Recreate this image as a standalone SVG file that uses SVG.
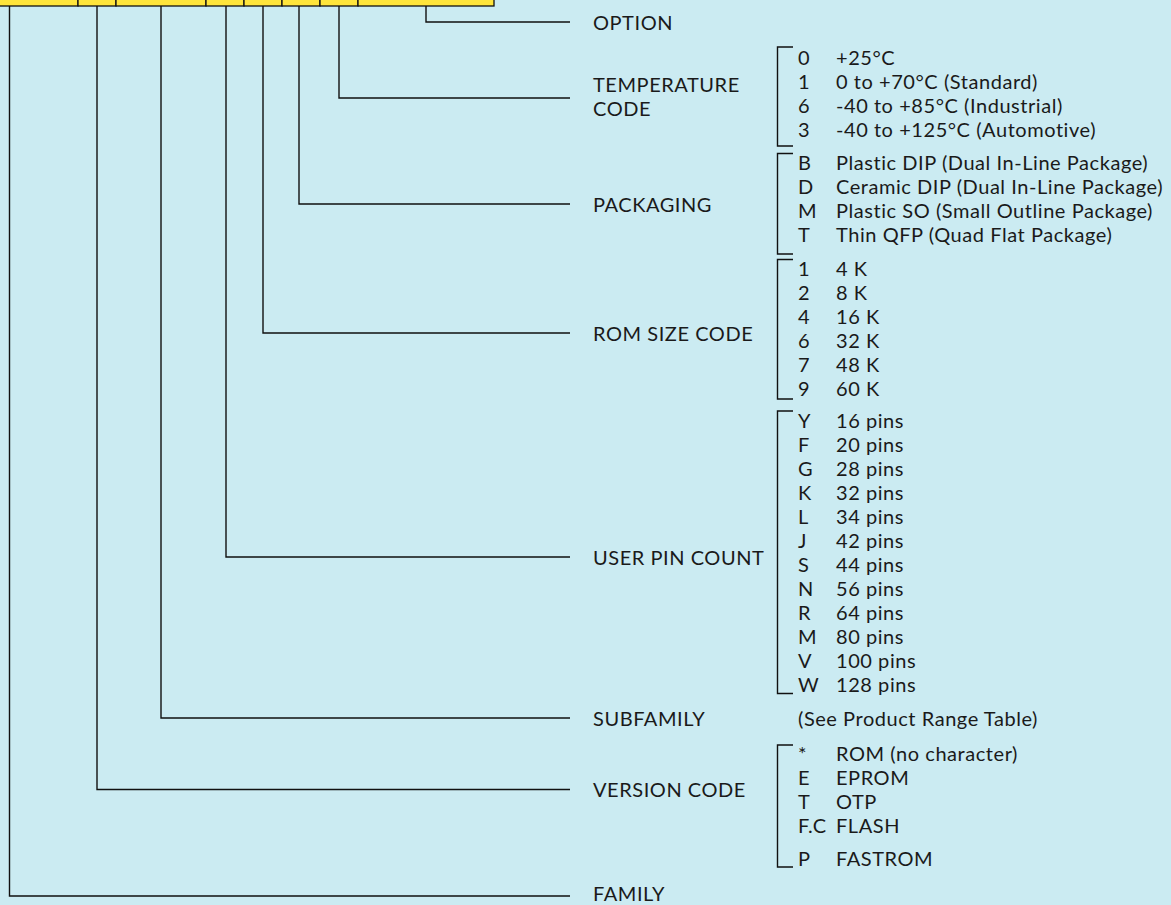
<svg xmlns="http://www.w3.org/2000/svg" width="1171" height="905" viewBox="0 0 1171 905">
<style>
text{font-family:Lato,"Noto Sans","Liberation Sans",sans-serif;font-size:20px;letter-spacing:0.55px;fill:#1a1a1a}
.box{fill:#FFE53B;stroke:#111;stroke-width:1.3}
.conn{fill:none;stroke:#111;stroke-width:1.4}
.br{fill:none;stroke:#111;stroke-width:1.4}
</style>
<rect x="0" y="0" width="1171" height="905" fill="#CBEBF2"/>
<g id="code-boxes">
<rect class="box" x="-5" y="-20" width="83" height="26"/>
<rect class="box" x="78" y="-20" width="38" height="26"/>
<rect class="box" x="116" y="-20" width="90" height="26"/>
<rect class="box" x="206" y="-20" width="38" height="26"/>
<rect class="box" x="244" y="-20" width="38" height="26"/>
<rect class="box" x="282" y="-20" width="38" height="26"/>
<rect class="box" x="320" y="-20" width="38" height="26"/>
<rect class="box" x="358" y="-20" width="136" height="26"/>
</g>
<g id="connectors">
<polyline class="conn" points="426,6 426,22 570,22"/>
<polyline class="conn" points="339,6 339,98 570,98"/>
<polyline class="conn" points="299,6 299,204 570,204"/>
<polyline class="conn" points="263,6 263,333 570,333"/>
<polyline class="conn" points="226,6 226,557 570,557"/>
<polyline class="conn" points="161,6 161,718 570,718"/>
<polyline class="conn" points="97,6 97,789.5 570,789.5"/>
<polyline class="conn" points="9.5,6 9.5,896 570,896"/>
</g>
<g id="option">
<text x="593" y="30">OPTION</text>
</g>
<g id="temperature">
<text x="593" y="92">TEMPERATURE</text>
<text x="593" y="116">CODE</text>
<polyline class="br" points="793,47 777.5,47 777.5,146 793,146"/>
<text x="798" y="65">0</text><text x="836" y="65">+25°C</text>
<text x="798" y="89">1</text><text x="836" y="89">0 to +70°C (Standard)</text>
<text x="798" y="113">6</text><text x="836" y="113">-40 to +85°C (Industrial)</text>
<text x="798" y="137">3</text><text x="836" y="137">-40 to +125°C (Automotive)</text>
</g>
<g id="packaging">
<text x="593" y="212">PACKAGING</text>
<polyline class="br" points="793,153.5 777.5,153.5 777.5,254 793,254"/>
<text x="798" y="170">B</text><text x="836" y="170">Plastic DIP (Dual In-Line Package)</text>
<text x="798" y="194">D</text><text x="836" y="194">Ceramic DIP (Dual In-Line Package)</text>
<text x="798" y="218">M</text><text x="836" y="218">Plastic SO (Small Outline Package)</text>
<text x="798" y="242">T</text><text x="836" y="242">Thin QFP (Quad Flat Package)</text>
</g>
<g id="rom-size">
<text x="593" y="341">ROM SIZE CODE</text>
<polyline class="br" points="793,259.5 777.5,259.5 777.5,399 793,399"/>
<text x="798" y="276">1</text><text x="836" y="276">4 K</text>
<text x="798" y="300">2</text><text x="836" y="300">8 K</text>
<text x="798" y="324">4</text><text x="836" y="324">16 K</text>
<text x="798" y="348">6</text><text x="836" y="348">32 K</text>
<text x="798" y="372">7</text><text x="836" y="372">48 K</text>
<text x="798" y="396">9</text><text x="836" y="396">60 K</text>
</g>
<g id="pin-count">
<text x="593" y="565">USER PIN COUNT</text>
<polyline class="br" points="793,411 777.5,411 777.5,693.5 793,693.5"/>
<text x="798" y="428">Y</text><text x="836" y="428">16 pins</text>
<text x="798" y="452">F</text><text x="836" y="452">20 pins</text>
<text x="798" y="476">G</text><text x="836" y="476">28 pins</text>
<text x="798" y="500">K</text><text x="836" y="500">32 pins</text>
<text x="798" y="524">L</text><text x="836" y="524">34 pins</text>
<text x="798" y="548">J</text><text x="836" y="548">42 pins</text>
<text x="798" y="572">S</text><text x="836" y="572">44 pins</text>
<text x="798" y="596">N</text><text x="836" y="596">56 pins</text>
<text x="798" y="620">R</text><text x="836" y="620">64 pins</text>
<text x="798" y="644">M</text><text x="836" y="644">80 pins</text>
<text x="798" y="668">V</text><text x="836" y="668">100 pins</text>
<text x="798" y="692">W</text><text x="836" y="692">128 pins</text>
</g>
<g id="subfamily">
<text x="593" y="726">SUBFAMILY</text>
<text x="798" y="726">(See Product Range Table)</text>
</g>
<g id="version">
<text x="593" y="797">VERSION CODE</text>
<polyline class="br" points="793,745 777.5,745 777.5,867 793,867"/>
<text x="798" y="761">*</text><text x="836" y="761">ROM (no character)</text>
<text x="798" y="785">E</text><text x="836" y="785">EPROM</text>
<text x="798" y="809">T</text><text x="836" y="809">OTP</text>
<text x="798" y="833">F.C</text><text x="836" y="833">FLASH</text>
<text x="798" y="866">P</text><text x="836" y="866">FASTROM</text>
</g>
<g id="family">
<text x="593" y="901">FAMILY</text>
</g>
</svg>
